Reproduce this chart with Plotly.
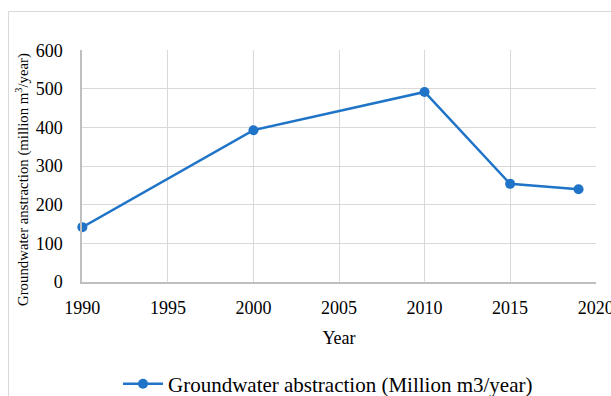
import plotly.graph_objects as go

# Groundwater abstraction by year
years = [1990, 2000, 2010, 2015, 2019]
abstraction = [142, 393, 492, 254, 240]

x_ticks = [1990, 1995, 2000, 2005, 2010, 2015, 2020]
y_ticks = [0, 100, 200, 300, 400, 500, 600]

FONT = "Liberation Serif"
BLUE = "#1f74c8"

fig = go.Figure()
fig.add_trace(go.Scatter(
    x=years, y=abstraction, mode="lines+markers",
    name="Groundwater abstraction (Million m3/year)",
    line=dict(color=BLUE, width=2.5),
    marker=dict(color=BLUE, size=10),
    cliponaxis=False,
))

fig.update_layout(
    width=611, height=396,
    margin=dict(l=82, r=15, t=50, b=114, autoexpand=False),
    paper_bgcolor="white", plot_bgcolor="white",
    font=dict(family=FONT, size=18, color="#000000", weight="normal"),
    showlegend=True,
    legend=dict(orientation="h", x=0.07, xanchor="left", y=-0.44, yanchor="middle",
                font=dict(family=FONT, size=21, weight="normal"), itemwidth=40),
    xaxis=dict(range=[1989.98, 2020.02], tickvals=x_ticks, ticktext=[str(v) for v in x_ticks],
               showgrid=True, gridcolor="#d9d9d9", gridwidth=1,
               showline=True, linecolor="#bfbfbf", linewidth=1.5,
               zeroline=False, ticks="", ticklabelstandoff=9, ticklabeloverflow="allow",
               tickfont=dict(family=FONT, size=18, weight="normal"),
               title=dict(text="Year", font=dict(family=FONT, size=18, weight="normal"), standoff=14)),
    yaxis=dict(range=[0, 600.5], tickvals=y_ticks,
               showgrid=True, gridcolor="#d9d9d9", gridwidth=1,
               showline=True, linecolor="#bfbfbf", linewidth=1.5,
               zeroline=False, ticks="", ticklabelstandoff=14,
               tickfont=dict(family=FONT, size=18, weight="normal")),
    annotations=[dict(
        text="Groundwater anstraction (million m<sup>3</sup>/year)",
        textangle=-90, xref="paper", yref="paper",
        x=(22 - 82) / 514, y=(282 - 180) / 232, xanchor="center", yanchor="middle",
        showarrow=False, font=dict(family=FONT, size=14.8, weight="normal"),
    )],
    shapes=[dict(type="rect", xref="paper", yref="paper",
                 x0=(8.5 - 82) / 514, x1=1.2, y0=-0.8, y1=(282 - 11.5) / 232,
                 line=dict(color="#d9d9d9", width=1), fillcolor="rgba(0,0,0,0)",
                 layer="below")],
)

fig.write_html("out.html")
